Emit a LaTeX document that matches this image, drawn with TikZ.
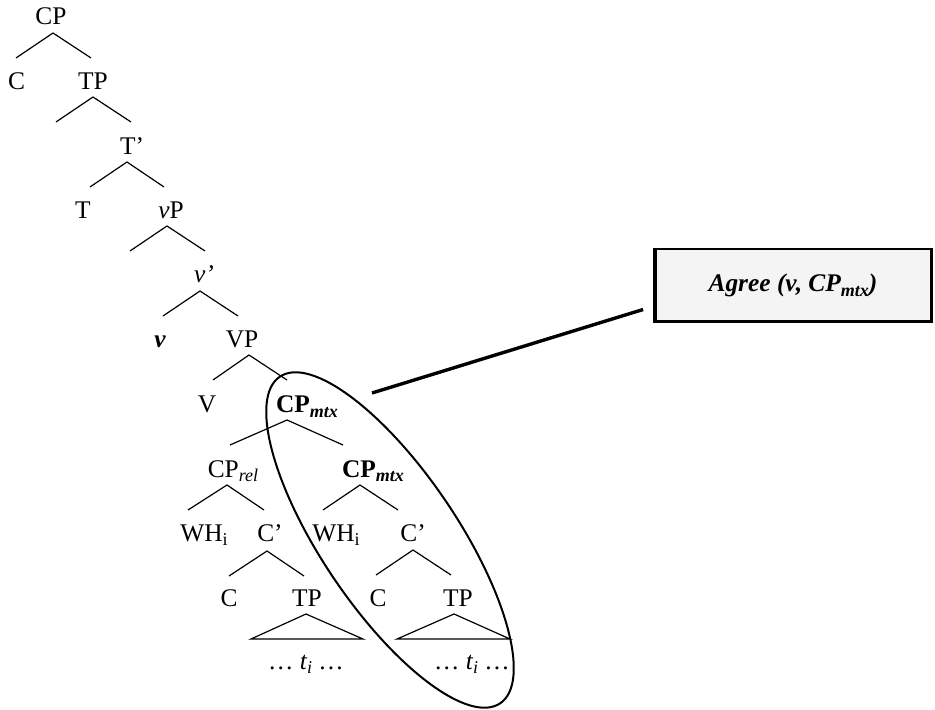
\documentclass[tikz,border=0pt]{standalone}
\usepackage{fontspec}
\setmainfont{Liberation Serif}
\usetikzlibrary{shapes.geometric}
% small lowered subscript in text
\newcommand\lowsub[1]{\raisebox{-2.2pt}{\fontsize{9}{9}\selectfont #1}}
\begin{document}
\begin{tikzpicture}[x=0.5pt,y=-0.5pt,
  every node/.style={font=\fontsize{12.7pt}{15pt}\selectfont, inner sep=0pt, outer sep=0pt},
  lbl/.style={anchor=base},
  edge/.style={line width=0.6pt, line join=miter},
  pics/branch/.style n args={2}{code={\draw[edge] (-#1,25) -- (0,0) -- (#2,25);}},
  pics/roof/.style n args={2}{code={\draw[edge] (-#1,25) -- (0,0) -- (#2,25) -- cycle;}},
  agreebox/.style={draw, line width=1.1pt, fill=gray!9, minimum width=138.9pt, minimum height=36.4pt},
  boxside/.style={line width=1pt},
  link/.style={line width=1.7pt},
  ring/.style={draw, ellipse, line width=1pt, minimum width=197pt, minimum height=68pt}
]
\useasboundingbox (0,0) rectangle (935,710);

% labels of the tree
\node[lbl] (cp)    at (51,25)   {CP};
\node[lbl] (c1)    at (16.5,90) {C};
\node[lbl] (tp1)   at (93,90)   {TP};
\node[lbl] (tbar)  at (132,155) {T’};
\node[lbl] (t)     at (83,219)  {T};
\node[lbl] (vp)    at (171,219) {\textit{v}P};
\node[lbl] (vbar)  at (204,283) {\textit{v’}};
\node[lbl] (v)     at (160,348) {\textbf{\textit{v}}};
\node[lbl] (VP)    at (242,348) {VP};
\node[lbl] (V)     at (207,413) {V};
\node[lbl] (mtx1)  at (307,413) {\textbf{CP\lowsub{\textit{mtx}}}};
\node[lbl] (rel)   at (233,477) {CP\lowsub{\textit{rel}}};
\node[lbl] (mtx2)  at (373,477) {\textbf{CP\lowsub{\textit{mtx}}}};
\node[lbl] (wh1)   at (204,541) {WH\lowsub{i}};
\node[lbl] (cbar1) at (270,541) {C’};
\node[lbl] (wh2)   at (336,541) {WH\lowsub{i}};
\node[lbl] (cbar2) at (413,541) {C’};
\node[lbl] (c2)    at (229,606) {C};
\node[lbl] (tp2)   at (307,606) {TP};
\node[lbl] (c3)    at (378,606) {C};
\node[lbl] (tp3)   at (458,606) {TP};
\node[lbl] (tr1)   at (306,669) {… \textit{t\lowsub{i}} …};
\node[lbl] (tr2)   at (472,669) {… \textit{t\lowsub{i}} …};

% branches
\pic at (53,33)   {branch={37}{38}};
\pic at (93,97)   {branch={37}{38}};
\pic at (127,162) {branch={37}{37}};
\pic at (167,226) {branch={37}{38}};
\pic at (200,291) {branch={37}{38}};
\pic at (249,355) {branch={36}{38}};
\pic at (287,420) {branch={57}{56}};
\pic at (227,485) {branch={39}{37}};
\pic at (360,485) {branch={37}{38}};
\pic at (267,551) {branch={38}{37}};
\pic at (413,550) {branch={37}{38}};
\pic at (306,614) {roof={55}{57}};
\pic at (454,614) {roof={57}{56}};

% ellipse round the matrix CP
\node[ring, rotate=-56] (scope) at (390,540) {};

% the Agree box, with heavier sides, and its link
\node[agreebox] (agree) at (793,285.5) {\textbf{\textit{Agree (v, CP\lowsub{mtx})}}};
\draw[boxside] ([xshift=0.7pt]agree.north west) -- ([xshift=0.7pt]agree.south west);
\draw[boxside] ([xshift=-0.7pt]agree.north east) -- ([xshift=-0.7pt]agree.south east);
\draw[line width=0.6pt] ([yshift=0.5pt]agree.south west) -- ([yshift=0.5pt]agree.south east);
\coordinate (lip)  at (372,393);
\coordinate (hook) at ([shift={(-11,24)}]agree.west);
\draw[link] (lip) -- (hook);
\end{tikzpicture}
\end{document}
